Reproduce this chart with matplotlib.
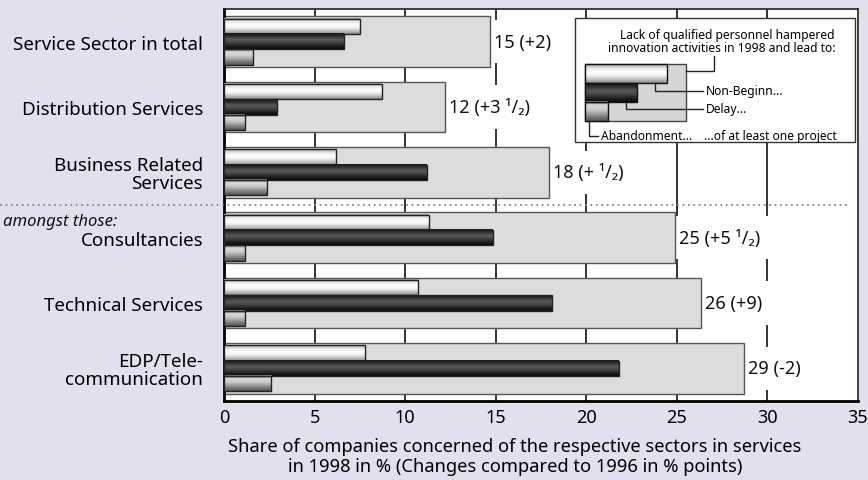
import matplotlib.pyplot as plt
import matplotlib.transforms as mtransforms
import numpy as np
from matplotlib.colors import LinearSegmentedColormap
from matplotlib.patches import Rectangle

plt.rcParams['font.family'] = ['Noto Sans', 'DejaVu Sans']

sectors = ["Service Sector in total", "Distribution Services",
           "Business Related\nServices", "Consultancies",
           "Technical Services", "EDP/Tele-\ncommunication"]
total = [14.7, 12.2, 17.95, 24.9, 26.35, 28.7]
change = ["+2", "+3 ¹/₂", "+ ¹/₂", "+5 ¹/₂", "+9", "-2"]
non_beginning = [7.5, 8.7, 6.2, 11.3, 10.7, 7.8]
delay = [6.6, 2.9, 11.2, 14.85, 18.1, 21.8]
abandonment = [1.6, 1.15, 2.35, 1.15, 1.15, 2.6]

W, H = 868, 481
bg = '#e4dfee'

cm_white = LinearSegmentedColormap.from_list(
    'w', ['#9a9a9a', '#e6e6e6', '#ffffff', '#f2f2f2', '#c4c4c4', '#8a8a8a'])
cm_black = LinearSegmentedColormap.from_list(
    'k', ['#141414', '#333333', '#5a5a5a', '#444444', '#222222', '#0a0a0a'])
cm_gray = LinearSegmentedColormap.from_list(
    'g', ['#8c8c8c', '#d8d8d8', '#cfcfcf', '#a8a8a8', '#7a7a7a', '#555555'])
grad = np.linspace(0, 1, 64).reshape(-1, 1)

fig = plt.figure(figsize=(W / 100, H / 100), dpi=100, facecolor=bg)
ax = fig.add_axes([224 / W, 1 - 402 / H, 634 / W, 392 / H])
ax.set_facecolor('white')

y = np.arange(len(sectors))
big_h = 0.775
sub_h = 0.235


def shaded_bar(yc, value, cmap):
    y0, y1 = yc - sub_h / 2, yc + sub_h / 2
    ax.imshow(grad, extent=[0, value, y1, y0], aspect='auto', cmap=cmap,
              interpolation='bilinear', zorder=3)
    ax.add_patch(Rectangle((0, y0), value, sub_h, fill=False,
                           edgecolor='#222222', lw=1.0, zorder=4))


ax.barh(y, total, height=big_h, color='#dcdcdc', edgecolor='#555555',
        lw=1.0, zorder=2)
for i in range(len(sectors)):
    shaded_bar(y[i] - sub_h, non_beginning[i], cm_white)
    shaded_bar(y[i], delay[i], cm_black)
    shaded_bar(y[i] + sub_h, abandonment[i], cm_gray)
    ax.text(total[i] + 0.2, y[i], f"{round(total[i])} ({change[i]})",
            va='center', ha='left', fontsize=13, color='#111111',
            bbox=dict(boxstyle='square,pad=0.7', fc='white', ec='none'),
            zorder=1.5)

for gx in range(5, 35, 5):
    ax.axvline(gx, color='#111111', lw=1.2, zorder=0.5)

ax.set_xlim(0, 35)
ax.set_ylim(len(sectors) - 0.5, -0.5)
ax.set_xticks(range(0, 40, 5))
ax.tick_params(axis='x', length=0, labelsize=13, pad=5)
ax.set_yticks(y)
ax.set_yticklabels(sectors, fontsize=13.5, linespacing=1.0)
ax.tick_params(axis='y', length=0, pad=15)
for s in ['left', 'bottom']:
    ax.spines[s].set_linewidth(2)
    ax.spines[s].set_color('black')
for s in ['top', 'right']:
    ax.spines[s].set_linewidth(1.2)
    ax.spines[s].set_color('#222222')

# separator between sector totals and the sub-sectors
tr = mtransforms.blended_transform_factory(fig.transFigure, ax.transData)
ax.plot([0, 850 / W], [2.5, 2.5], transform=tr, ls=(0, (1, 2)),
        color='#888888', lw=1.3, clip_on=False, zorder=5)
fig.text(3 / W, 1 - 222 / H, "amongst those:", style='italic',
         fontsize=12, va='center', ha='left', color='#111111')

fig.text(515 / W, 1 - 447 / H,
         "Share of companies concerned of the respective sectors in services",
         ha='center', va='center', fontsize=13.2)
fig.text(515 / W, 1 - 467 / H,
         "in 1998 in % (Changes compared to 1996 in % points)",
         ha='center', va='center', fontsize=13.2)

# legend panel drawn in pixel units
lg = fig.add_axes([0, 0, 1, 1], zorder=10)
lg.set_xlim(0, W)
lg.set_ylim(H, 0)
lg.axis('off')
lg.add_patch(Rectangle((575, 19), 280, 124, fc='white', ec='#333333', lw=1))
lg.text(835, 35, "Lack of qualified personnel hampered", ha='right',
        va='center', fontsize=8.7)
lg.text(835, 48, "innovation activities in 1998 and lead to:", ha='right',
        va='center', fontsize=8.7)
lg.add_patch(Rectangle((585, 65), 101, 57, fc='#d6d6d6', ec='#444444', lw=1))
for (x1, y0, y1, cmap) in [(667, 65, 83.5, cm_white), (637, 83.5, 102.5, cm_black),
                           (608, 102.5, 122, cm_gray)]:
    lg.imshow(grad, extent=[585, x1, y1, y0], aspect='auto', cmap=cmap,
              interpolation='bilinear', zorder=3)
    lg.add_patch(Rectangle((585, y0), x1 - 585, y1 - y0, fill=False,
                           ec='#111111', lw=1, zorder=4))
lg.set_xlim(0, W)
lg.set_ylim(H, 0)
lk = dict(color='#222222', lw=1, zorder=5)
lg.plot([686, 714, 714], [72, 72, 57], **lk)
lg.plot([655, 655, 703], [83.5, 92, 92], **lk)
lg.plot([626, 626, 703], [102.5, 110, 110], **lk)
lg.plot([589, 589, 598], [122, 137, 137], **lk)
lg.text(706, 92, "Non-Beginn...", va='center', ha='left', fontsize=8.7)
lg.text(706, 110, "Delay...", va='center', ha='left', fontsize=8.7)
lg.text(601, 137, "Abandonment...", va='center', ha='left', fontsize=8.7)
lg.text(837, 137, "...of at least one project", va='center', ha='right',
        fontsize=8.7)

fig.savefig('out.png', dpi=100, facecolor=bg)
